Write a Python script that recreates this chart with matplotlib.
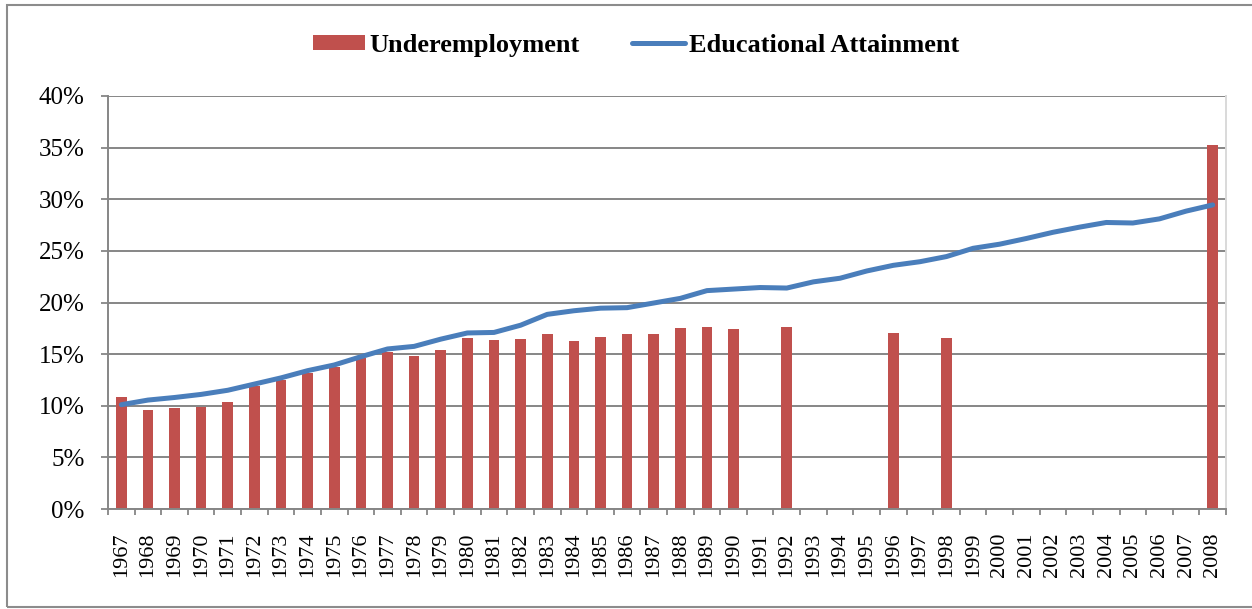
import numpy as np
import matplotlib
matplotlib.use("Agg")
import matplotlib.pyplot as plt
from matplotlib.patches import Rectangle
from matplotlib.ticker import FuncFormatter

plt.rcParams['font.family'] = ['Liberation Serif', 'DejaVu Serif']

years = list(range(1967, 2009))
nan = np.nan
# underemployment, share of graduates (%)
underemployment = [10.85, 9.6, 9.75, 9.85, 10.35, 11.9, 12.5, 13.15, 13.75, 14.6,
                   15.25, 14.85, 15.4, 16.55, 16.4, 16.5, 16.95, 16.3, 16.65, 16.95,
                   16.95, 17.55, 17.6, 17.45, nan, 17.65, nan, nan, nan, 17.0,
                   nan, 16.6, nan, nan, nan, nan, nan, nan, nan, nan,
                   nan, 35.3]
# educational attainment (%)
attainment = [10.1, 10.55, 10.8, 11.1, 11.5, 12.1, 12.7, 13.4, 13.95, 14.75,
              15.5, 15.75, 16.45, 17.05, 17.1, 17.8, 18.85, 19.2, 19.45, 19.5,
              19.95, 20.4, 21.15, 21.3, 21.45, 21.4, 22.0, 22.35, 23.05, 23.6,
              23.95, 24.45, 25.25, 25.65, 26.2, 26.8, 27.3, 27.75, 27.7, 28.1,
              28.85, 29.45]

x = np.arange(len(years))

fig = plt.figure(figsize=(12.52, 6.09), dpi=100)
ax = fig.add_axes([108 / 1252, 1 - 509 / 609, 1118 / 1252, 413 / 609])

# outer chart frame
fig.patches.append(Rectangle((7 / 1252, 2 / 609), 1.0, 602 / 609, transform=fig.transFigure,
                             fill=False, edgecolor='#8c8c8c', linewidth=1.5))

bars = ax.bar(x, underemployment, width=0.4, color='#c0504d', label='Underemployment', zorder=2)
line, = ax.plot(x, attainment, color='#4a7ebb', linewidth=3.6, solid_capstyle='round',
                label='Educational Attainment', zorder=3)

ax.set_xlim(-0.5, len(years) - 0.5)
ax.set_ylim(0, 40)
ax.set_yticks(np.arange(0, 41, 5))
ax.yaxis.set_major_formatter(FuncFormatter(lambda v, p: f"{v:.0f}%"))
ax.set_xticks(x)
ax.set_xticklabels([str(y) for y in years], rotation=90, fontsize=16)
ax.set_xticks(np.arange(-0.5, len(years), 1.0), minor=True)
ax.tick_params(axis='x', which='major', length=0, pad=17)
ax.tick_params(axis='x', which='minor', length=4.5, width=1.3, color='#868686', direction='out')
ax.tick_params(axis='y', length=5, width=1.3, color='#868686', labelsize=18, pad=12)

ax.grid(axis='y', color='#868686', linewidth=1.4, zorder=0)
ax.set_axisbelow(True)
for side in ['left', 'bottom']:
    ax.spines[side].set_color('#868686')
    ax.spines[side].set_linewidth(1.4)
ax.spines['top'].set_visible(False)
ax.spines['right'].set_color('#d9d9d9')
ax.spines['right'].set_linewidth(1.4)

fig.legend(handles=[bars, line], loc='center', bbox_to_anchor=(0.508, 0.926), ncol=2,
           frameon=False, prop={'weight': 'bold', 'size': 19}, handlelength=2.0,
           handletextpad=0.15, columnspacing=2.0, handleheight=0.5)

fig.savefig('out.png', dpi=100)
